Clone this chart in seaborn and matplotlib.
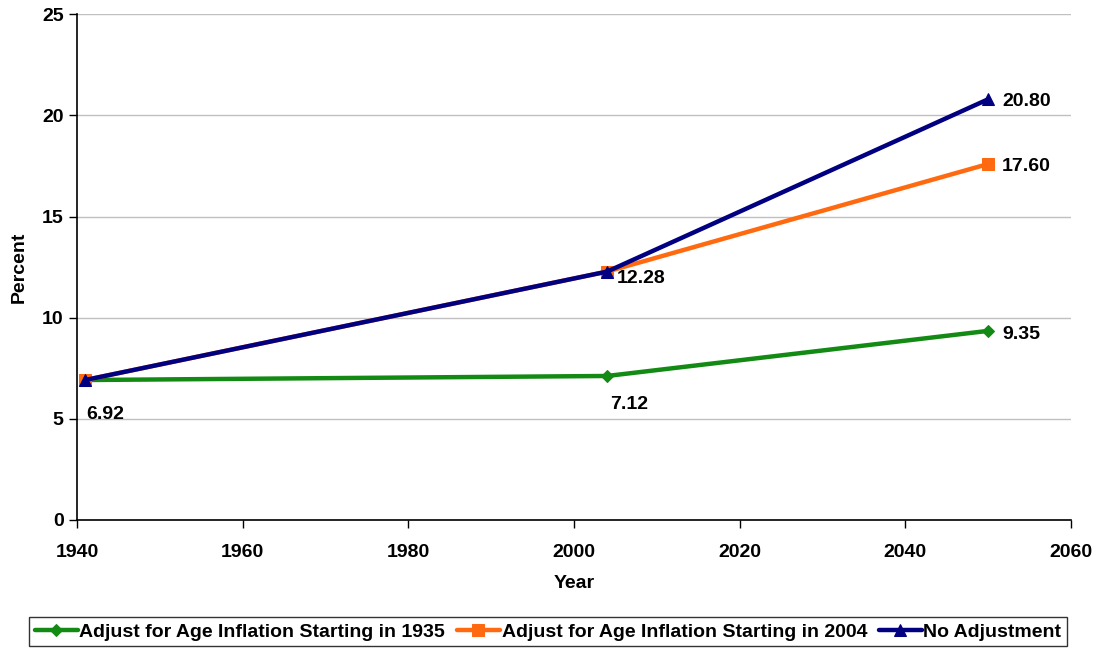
import numpy as np
import pandas as pd
import matplotlib
matplotlib.use("Agg")
import matplotlib.pyplot as plt
import seaborn as sns

# ===========================
# DATA
# ===========================
years = [1941, 2004, 2050]
series_names = [
    "Adjust for Age Inflation Starting in 1935",
    "Adjust for Age Inflation Starting in 2004",
    "No Adjustment",
]
adj_1935 = [6.92, 7.12, 9.35]
adj_2004 = [6.92, 12.28, 17.60]
no_adj = [6.92, 12.28, 20.80]

colors = ["#138A13", "#FF6A10", "#000080"]
markers = ["D", "s", "^"]

df = pd.DataFrame({
    "Year": years * 3,
    "Percent": adj_1935 + adj_2004 + no_adj,
    "Series": [series_names[0]] * 3 + [series_names[1]] * 3 + [series_names[2]] * 3,
})

# ===========================
# PLOT
# ===========================
sns.set_style("white")
plt.rcParams["font.family"] = ["Liberation Sans", "DejaVu Sans"]
plt.rcParams["font.weight"] = "bold"
plt.rcParams["text.color"] = "black"
plt.rcParams["axes.labelcolor"] = "black"
plt.rcParams["xtick.color"] = "black"
plt.rcParams["ytick.color"] = "black"

fig = plt.figure(figsize=(10.99, 6.5), dpi=100)
ax = fig.add_axes([0.070, 0.2, 0.9045, 0.778])

msizes = [6, 9, 9]
for name, c, m, ms in zip(series_names, colors, markers, msizes):
    sub = df[df["Series"] == name]
    sns.lineplot(data=sub, x="Year", y="Percent", ax=ax, color=c, marker=m,
                 markersize=ms, markeredgecolor=c, linewidth=3.2, label=name)

ax.set_xlim(1940, 2060)
ax.set_ylim(0, 25)
ax.set_xticks(np.arange(1940, 2061, 20))
ax.set_yticks(np.arange(0, 26, 5))
ax.yaxis.grid(True, color="#C0C0C0", linewidth=1)
ax.set_axisbelow(True)
for s in ["top", "right"]:
    ax.spines[s].set_visible(False)
for s in ["left", "bottom"]:
    ax.spines[s].set_color("black")
    ax.spines[s].set_linewidth(1.2)
ax.tick_params(axis="both", direction="out", length=6, width=1, labelsize=14,
               color="black", labelcolor="black", bottom=True, left=True)
ax.tick_params(axis="x", pad=11)
for lbl in ax.get_xticklabels() + ax.get_yticklabels():
    lbl.set_fontweight("bold")
ax.set_xlabel("Year", fontsize=14, fontweight="bold", labelpad=10)
ax.set_ylabel("Percent", fontsize=14, fontweight="bold", labelpad=10)

# value labels
lab_kw = dict(fontsize=14, fontweight="bold", color="black")
ax.annotate(f"{adj_1935[0]:.2f}", (years[0], adj_1935[0]), xytext=(1, -28),
            textcoords="offset points", **lab_kw)
ax.annotate(f"{adj_1935[1]:.2f}", (years[1], adj_1935[1]), xytext=(2, -24),
            textcoords="offset points", **lab_kw)
ax.annotate(f"{adj_1935[2]:.2f}", (years[2], adj_1935[2]), xytext=(10, -6),
            textcoords="offset points", **lab_kw)
ax.annotate(f"{no_adj[1]:.2f}", (years[1], no_adj[1]), xytext=(7, -8),
            textcoords="offset points", **lab_kw)
ax.annotate(f"{adj_2004[2]:.2f}", (years[2], adj_2004[2]), xytext=(10, -5),
            textcoords="offset points", **lab_kw)
ax.annotate(f"{no_adj[2]:.2f}", (years[2], no_adj[2]), xytext=(10, -5),
            textcoords="offset points", **lab_kw)

leg = ax.legend(loc="upper center", bbox_to_anchor=(0.474, -0.192), ncol=3,
                frameon=True, fancybox=False, edgecolor="black",
                prop={"size": 14, "weight": "bold"}, handlelength=2.2,
                handletextpad=0.1, columnspacing=0.6, borderpad=0.3,
                borderaxespad=0)
leg.get_frame().set_linewidth(1)

fig.savefig("out.png", dpi=100)
